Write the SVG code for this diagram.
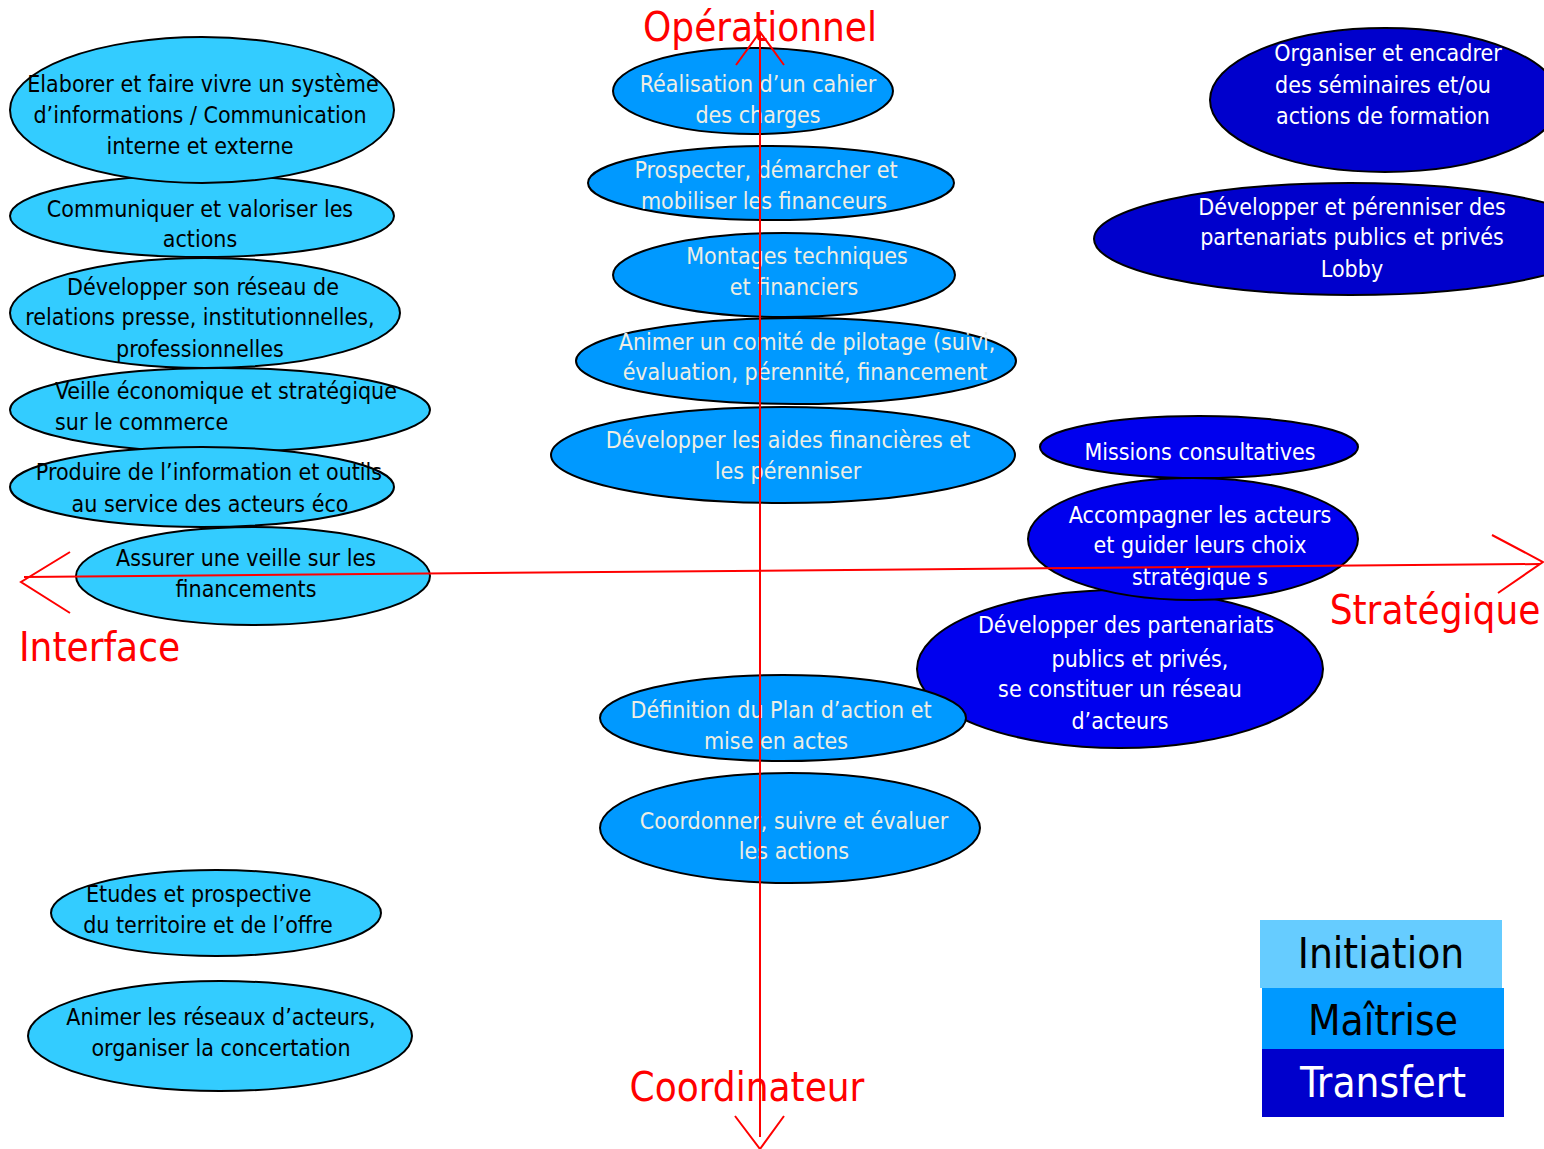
<svg xmlns="http://www.w3.org/2000/svg" width="1544" height="1149" viewBox="0 0 1544 1149">
<style>
text{font-family:"Liberation Sans Narrow","DejaVu Sans Condensed","Liberation Sans",sans-serif;font-size:23px;text-anchor:middle}
.e{stroke:#000;stroke-width:2}
.c1{fill:#33CCFF}.c2{fill:#0099FF}.c3{fill:#0000CC}.c4{fill:#0000EE}
.t1{fill:#000}.t2{fill:#EEEEE4}.t3{fill:#fff}
.ax{stroke:#FF0000;stroke-width:2;fill:none}
.lab{fill:#FF0000;font-size:40px}
.leg{font-size:42px}
</style>
<rect width="1544" height="1149" fill="#fff"/>
<!-- left column -->
<g id="n-communiquer"><ellipse class="e c1" cx="202" cy="216" rx="192" ry="41"/><text class="t1" x="200" y="217">Communiquer et valoriser les</text><text class="t1" x="200" y="247">actions</text></g>
<g id="n-elaborer"><ellipse class="e c1" cx="202" cy="110" rx="192" ry="73"/><text class="t1" x="203" y="92">Elaborer et faire vivre un système</text><text class="t1" x="200" y="123">d’informations / Communication</text><text class="t1" x="200" y="154">interne et externe</text></g>
<g id="n-reseau"><ellipse class="e c1" cx="205" cy="313" rx="195" ry="55"/><text class="t1" x="203" y="295">Développer son réseau de</text><text class="t1" x="200" y="325">relations presse, institutionnelles,</text><text class="t1" x="200" y="357">professionnelles</text></g>
<g id="n-veille"><ellipse class="e c1" cx="220" cy="410" rx="210" ry="42"/><text class="t1" x="55" y="399" style="text-anchor:start">Veille économique et stratégique</text><text class="t1" x="55" y="430" style="text-anchor:start">sur le commerce</text></g>
<g id="n-produire"><ellipse class="e c1" cx="202" cy="487" rx="192" ry="40"/><text class="t1" x="209" y="480">Produire de l’information et outils</text><text class="t1" x="210" y="512">au service des acteurs éco</text></g>
<g id="n-assurer"><ellipse class="e c1" cx="253" cy="576" rx="177" ry="49"/><text class="t1" x="246" y="566">Assurer une veille sur les</text><text class="t1" x="246" y="597">financements</text></g>
<g id="n-etudes"><ellipse class="e c1" cx="216" cy="913" rx="165" ry="43"/><text class="t1" x="86" y="902" style="text-anchor:start">Etudes et prospective</text><text class="t1" x="208" y="933">du territoire et de l’offre</text></g>
<g id="n-animer-reseaux"><ellipse class="e c1" cx="220" cy="1036" rx="192" ry="55"/><text class="t1" x="221" y="1025">Animer les réseaux d’acteurs,</text><text class="t1" x="221" y="1056">organiser la concertation</text></g>
<!-- middle column -->
<g id="n-realisation"><ellipse class="e c2" cx="753" cy="91" rx="140" ry="43"/><text class="t2" x="758" y="92">Réalisation d’un cahier</text><text class="t2" x="758" y="123">des charges</text></g>
<g id="n-prospecter"><ellipse class="e c2" cx="771" cy="183" rx="183" ry="37"/><text class="t2" x="766" y="178">Prospecter, démarcher et</text><text class="t2" x="764" y="209">mobiliser les financeurs</text></g>
<g id="n-montages"><ellipse class="e c2" cx="784" cy="275" rx="171" ry="42"/><text class="t2" x="797" y="264">Montages techniques</text><text class="t2" x="794" y="295">et financiers</text></g>
<g id="n-comite"><ellipse class="e c2" cx="796" cy="361" rx="220" ry="43"/><text class="t2" x="807" y="350">Animer un comité de pilotage (suivi,</text><text class="t2" x="805" y="380">évaluation, pérennité, financement</text></g>
<g id="n-aides"><ellipse class="e c2" cx="783" cy="455" rx="232" ry="48"/><text class="t2" x="788" y="448">Développer les aides financières et</text><text class="t2" x="788" y="479">les pérenniser</text></g>
<!-- right column -->
<g id="n-organiser"><ellipse class="e c3" cx="1385" cy="100" rx="175" ry="72"/><text class="t3" x="1388" y="61">Organiser et encadrer</text><text class="t3" x="1383" y="93">des séminaires et/ou</text><text class="t3" x="1383" y="124">actions de formation</text></g>
<g id="n-perenniser"><ellipse class="e c3" cx="1350" cy="239" rx="256" ry="56"/><text class="t3" x="1352" y="215">Développer et pérenniser des</text><text class="t3" x="1352" y="245">partenariats publics et privés</text><text class="t3" x="1352" y="277">Lobby</text></g>
<g id="n-missions"><ellipse class="e c4" cx="1199" cy="447" rx="159" ry="31"/><text class="t3" x="1200" y="460">Missions consultatives</text></g>
<g id="n-partenariats"><ellipse class="e c4" cx="1120" cy="669" rx="203" ry="79"/><text class="t3" x="1126" y="633">Développer des partenariats</text><text class="t3" x="1140" y="667">publics et privés,</text><text class="t3" x="1120" y="697">se constituer un réseau</text><text class="t3" x="1120" y="729">d’acteurs</text></g>
<g id="n-accompagner"><ellipse class="e c4" cx="1193" cy="539" rx="165" ry="61"/><text class="t3" x="1200" y="523">Accompagner les acteurs</text><text class="t3" x="1200" y="553">et guider leurs choix</text><text class="t3" x="1200" y="585">stratégique s</text></g>
<g id="n-definition"><ellipse class="e c2" cx="783" cy="718" rx="183" ry="43"/><text class="t2" x="781" y="718">Définition du Plan d’action et</text><text class="t2" x="776" y="749">mise en actes</text></g>
<g id="n-coordonner"><ellipse class="e c2" cx="790" cy="828" rx="190" ry="55"/><text class="t2" x="794" y="829">Coordonner, suivre et évaluer</text><text class="t2" x="794" y="859">les actions</text></g>
<!-- axes -->
<g id="connectors">
<line class="ax" x1="760" y1="33" x2="760" y2="1137"/>
<polyline class="ax" points="736,65 760,32 784,65"/>
<polyline class="ax" points="735,1116 760,1149 784,1116"/>
<line class="ax" x1="24" y1="577" x2="1540" y2="564"/>
<polyline class="ax" points="70,552 21,582 70,613"/>
<polyline class="ax" points="1492,535 1543,562 1498,593"/>
</g>
<g id="axis-labels">
<text class="lab" x="760" y="41">Opérationnel</text>
<text class="lab" x="19" y="661" style="text-anchor:start">Interface</text>
<text class="lab" x="1435" y="624">Stratégique</text>
<text class="lab" x="747" y="1101">Coordinateur</text>
</g>
<g id="legend">
<rect x="1260" y="920" width="242" height="68" fill="#66CCFF"/>
<rect x="1262" y="988" width="242" height="62" fill="#0099FF"/>
<rect x="1262" y="1049" width="242" height="68" fill="#0000CC"/>
<text class="leg" x="1381" y="968" fill="#000">Initiation</text>
<text class="leg" x="1383" y="1035" fill="#000">Maîtrise</text>
<text class="leg" x="1383" y="1097" fill="#fff">Transfert</text>
</g>
</svg>
